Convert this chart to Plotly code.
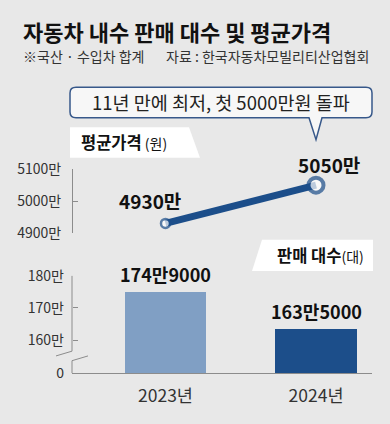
import plotly.graph_objects as go

# ---- data ----
years = ["2023년", "2024년"]
avg_price = [4930, 5050]            # 만원
avg_price_labels = ["4930만", "5050만"]
sales = [174.9, 163.5]              # 만 대
sales_labels = ["174만9000", "163만5000"]
price_ticks = [4900, 5000, 5100]
price_ticktext = ["4900만", "5000만", "5100만"]
sales_break = 149.7                 # value drawn at the "0" baseline (broken axis)
sales_ticks = [sales_break, 160, 170, 180]
sales_ticktext = ["0", "160만", "170만", "180만"]

W, H = 390, 424
FONT = "Noto Sans CJK KR"
BG = "#e8e8e8"
DARK = "#1c4e8a"
LIGHT = "#809fc4"
AXIS = "#8c8c8c"


def px(x):
    return x / W


def py(y):
    return 1 - y / H


def P(x, y):
    return f"{px(x):.5f},{py(y):.5f}"


fig = go.Figure()

fig.add_trace(go.Bar(
    x=years, y=sales, xaxis="x", yaxis="y2",
    marker=dict(color=[LIGHT, DARK], line=dict(width=0)),
    width=0.54, hoverinfo="skip", showlegend=False,
))

fig.add_trace(go.Scatter(
    x=years, y=avg_price, xaxis="x", yaxis="y",
    mode="lines+markers",
    line=dict(color=DARK, width=7),
    marker=dict(color="white", size=[9, 15],
                line=dict(color=DARK, width=[2.5, 4])),
    cliponaxis=False, hoverinfo="skip", showlegend=False,
))

annotations = []

# title / subtitle
annotations.append(dict(text="<b>자동차 내수 판매 대수 및 평균가격</b>", x=px(21), y=py(21),
                        xref="paper", yref="paper", xanchor="left", yanchor="middle",
                        showarrow=False, font=dict(family=FONT, size=22, color="#111")))
annotations.append(dict(text="※국산 · 수입차 합계", x=px(21), y=py(47),
                        xref="paper", yref="paper", xanchor="left", yanchor="middle",
                        showarrow=False, font=dict(family=FONT, size=14, color="#333")))
annotations.append(dict(text="자료 : 한국자동차모빌리티산업협회", x=px(371), y=py(47),
                        xref="paper", yref="paper", xanchor="right", yanchor="middle",
                        showarrow=False, font=dict(family=FONT, size=14, color="#333")))

# callout text
annotations.append(dict(text="11년 만에 최저, 첫 5000만원 돌파", x=px(221), y=py(96),
                        xref="paper", yref="paper", xanchor="center", yanchor="middle",
                        showarrow=False, font=dict(family=FONT, size=18.5, color="#222")))

# section labels
annotations.append(dict(text="<b>평균가격</b><span style='font-size:14px'> (원)</span>",
                        x=px(79), y=py(138), xref="paper", yref="paper",
                        xanchor="left", yanchor="middle", showarrow=False,
                        font=dict(family=FONT, size=16.5, color="#111")))
annotations.append(dict(text="<b>판매 대수</b><span style='font-size:14px'>(대)</span>",
                        x=px(366), y=py(256), xref="paper", yref="paper",
                        xanchor="right", yanchor="middle", showarrow=False,
                        font=dict(family=FONT, size=16.5, color="#111")))

# value labels for line
offs = [(-15, 23), (13, 21)]
for yr, v, lab, (dx, dy) in zip(years, avg_price, avg_price_labels, offs):
    annotations.append(dict(text=f"<b>{lab}</b>", x=yr, y=v, xref="x", yref="y",
                            xshift=dx, yshift=dy, showarrow=False,
                            font=dict(family=FONT, size=19, color="#111")))

# value labels for bars
for yr, v, lab in zip(years, sales, sales_labels):
    annotations.append(dict(text=f"<b>{lab}</b>", x=yr, y=v, xref="x", yref="y2",
                            yshift=18, showarrow=False,
                            font=dict(family=FONT, size=18, color="#111")))

shapes = []
# callout box with pointer
x0, x1, y0, y1, r = 70, 372, 80, 112, 6
path = (f"M{P(x0 + r, y0)} L{P(x1 - r, y0)} Q{P(x1, y0)} {P(x1, y0 + r)} "
        f"L{P(x1, y1 - r)} Q{P(x1, y1)} {P(x1 - r, y1)} "
        f"L{P(322, y1)} L{P(316, 135)} L{P(309, y1)} "
        f"L{P(x0 + r, y1)} Q{P(x0, y1)} {P(x0, y1 - r)} "
        f"L{P(x0, y0 + r)} Q{P(x0, y0)} {P(x0 + r, y0)} Z")
shapes.append(dict(type="path", path=path, xref="paper", yref="paper",
                   fillcolor="#f7f7f7", line=dict(color="#37588a", width=1.5), layer="above"))

# white label boxes
shapes.append(dict(type="path", xref="paper", yref="paper",
                   path=f"M{P(70, 122)} L{P(189, 122)} L{P(200, 154)} L{P(70, 154)} Z",
                   fillcolor="white", line=dict(width=0), layer="below"))
shapes.append(dict(type="path", xref="paper", yref="paper",
                   path=f"M{P(262, 240)} L{P(373, 240)} L{P(373, 273)} L{P(252, 273)} Z",
                   fillcolor="white", line=dict(width=0), layer="below"))

# broken axis line for sales
shapes.append(dict(type="path", xref="paper", yref="paper",
                   path=f"M{P(72, 278)} L{P(72, 357)} L{P(56, 362)}",
                   line=dict(color=AXIS, width=1)))
shapes.append(dict(type="path", xref="paper", yref="paper",
                   path=f"M{P(88, 362)} L{P(72, 367)} L{P(72, 380)}",
                   line=dict(color=AXIS, width=1)))

fig.update_layout(
    width=W, height=H,
    margin=dict(l=0, r=0, t=0, b=0),
    paper_bgcolor=BG, plot_bgcolor="rgba(0,0,0,0)",
    font=dict(family=FONT, color="#333"),
    bargap=0,
    xaxis=dict(domain=[px(72), px(372)], range=[-0.621, 1.372], anchor="y2",
               type="category", showline=True, linecolor=AXIS, linewidth=1,
               ticks="", showgrid=False, zeroline=False,
               tickfont=dict(family=FONT, size=17.5, color="#333"),
               ticklabelstandoff=7),
    yaxis=dict(domain=[py(233), py(166)], range=[4900, 5100], anchor="free",
               position=px(72), showline=True, linecolor=AXIS, linewidth=1,
               ticks="inside", ticklen=5, tickcolor=AXIS, tickwidth=1,
               tickvals=price_ticks, ticktext=price_ticktext,
               showgrid=False, zeroline=False, ticklabelstandoff=8,
               tickfont=dict(family=FONT, size=14, color="#333")),
    yaxis2=dict(domain=[py(380), py(278)], range=[sales_break, 180], anchor="free",
                position=px(72), showline=False,
                ticks="inside", ticklen=5, tickcolor=AXIS, tickwidth=1,
                tickvals=sales_ticks, ticktext=sales_ticktext,
                showgrid=False, zeroline=False, ticklabelstandoff=8,
                tickfont=dict(family=FONT, size=14, color="#333")),
    annotations=annotations,
    shapes=shapes,
)

fig.write_html(
    "out.html",
    config={"displayModeBar": False},
    post_script="document.body.style.margin='0';document.body.style.overflow='hidden';",
)
